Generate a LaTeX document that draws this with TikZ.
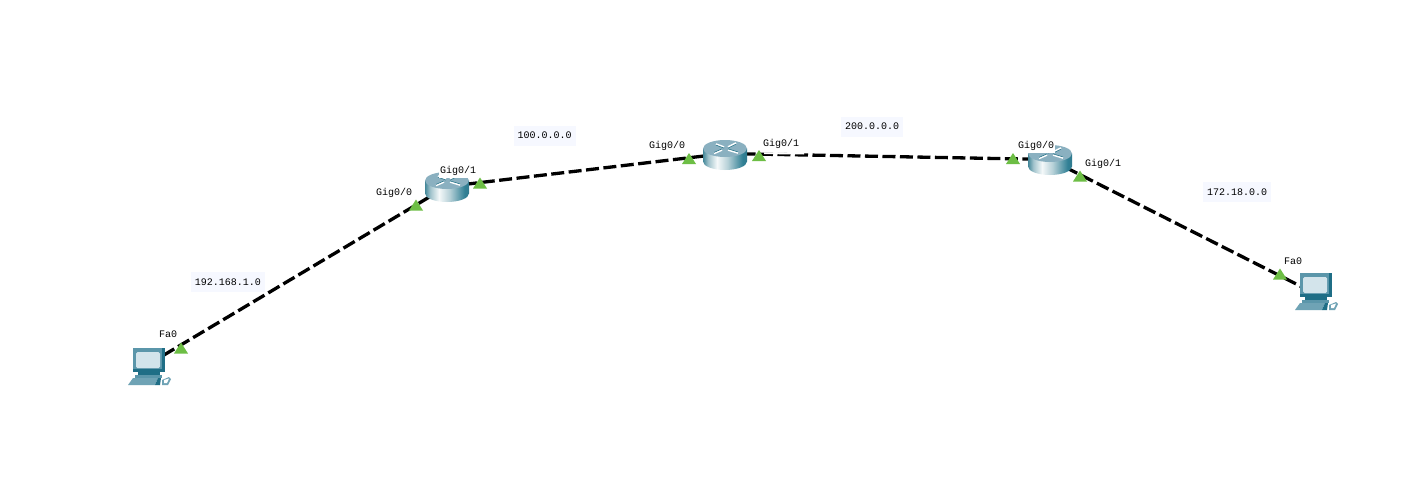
\documentclass[tikz,border=0pt]{standalone}
\usepackage{fontspec}
\setmonofont{Liberation Mono}
\definecolor{linkblack}{HTML}{000000}
\definecolor{portgreen}{HTML}{6DBE45}
\definecolor{ipbg}{HTML}{F6F8FF}
\definecolor{routertop}{HTML}{8AB0C0}
\definecolor{routeredge}{HTML}{2F7A8E}
\definecolor{pcmid}{HTML}{5B96AA}
\definecolor{pcdark}{HTML}{1F6E86}
\definecolor{pcscreen}{HTML}{D3E4EB}
\definecolor{pcbase}{HTML}{6FA3B5}
\pgfdeclarehorizontalshading{routerbody}{100bp}{
  color(0bp)=(routeredge!90!white);
  color(25bp)=(routeredge!90!white);
  color(31bp)=(routeredge!45!white);
  color(41bp)=(routeredge!5!white);
  color(53bp)=(routeredge!35!white);
  color(70bp)=(routeredge!105!black);
  color(75bp)=(routeredge!100!black);
  color(100bp)=(routeredge!100!black)}
\tikzset{
  x=1pt,y=-1pt,
  device/.style={inner sep=0pt,minimum width=1pt,minimum height=1pt},
  link/.style={draw=linkblack,line width=3.3pt,dash pattern=on 13pt off 4.5pt},
  portlabel/.style={font=\ttfamily\fontsize{10}{10}\selectfont,text=black,inner xsep=1pt,inner ysep=2.5pt,fill=white},
  iplabel/.style={font=\ttfamily\fontsize{10}{10}\selectfont,text=black,fill=ipbg,inner xsep=4pt,text height=9pt,text depth=3pt,inner ysep=4pt},
  pics/router/.style={code={
    \shade[shading=routerbody] (-22,-6.5) -- (-22,6.5) arc[start angle=180,end angle=360,x radius=22pt,y radius=8.5pt] -- (22,-6.5) -- cycle;
    \fill[routertop] (0,-6.5) ellipse[x radius=22pt,y radius=8.5pt];
    \draw[white,line width=1.6pt] (-11,-1.5) -- (-3,-5);
    \draw[white,line width=1.6pt] (3,-5) -- (13,-2);
    \draw[white,line width=1.6pt] (-9,-11) -- (-1,-8);
    \draw[white,line width=1.6pt] (3,-8) -- (11,-12);
    \draw[routeredge,line width=.6pt] (-11,-2.6) -- (-3,-6.1);
    \draw[routeredge,line width=.6pt] (3,-6.1) -- (13,-3.1);
    \draw[routeredge,line width=.6pt] (-9,-9.9) -- (-1,-6.9);
    \draw[routeredge,line width=.6pt] (3,-6.9) -- (11,-10.9);
  }},
  pics/pcicon/.style={code={
    \fill[pcdark] (-15,-18) -- (17,-18) -- (17,6) -- (-15,6) -- cycle;
    \fill[pcmid] (-15,-18) -- (14,-18) -- (14,3) -- (-15,3) -- cycle;
    \fill[pcscreen,rounded corners=1.5pt] (-12,-14) rectangle (12,2);
    \fill[pcdark] (-10,6) -- (12,6) -- (12,9) -- (-10,9) -- cycle;
    \fill[pcmid] (-13,9) -- (14,9) -- (14,12) -- (-13,12) -- cycle;
    \fill[pcbase] (-15,12) -- (10,12) -- (7,19) -- (-20,19) -- cycle;
    \fill[pcdark] (7,19) -- (10,12) -- (13,12) -- (12,19) -- cycle;
    \fill[pcbase] (14,14) -- (21,11) -- (23,13) -- (20,19) -- (14,19) -- cycle;
    \fill[white] (16,14) -- (21,12.5) -- (19,17) -- (16,17) -- cycle;
  }},
  pics/porttri/.style={code={
    \fill[portgreen] (-7,5.5) -- (0,-5.5) -- (7,5.5) -- cycle;
  }},
}
\begin{document}
\begin{tikzpicture}
\fill[white] (0,0) rectangle (1415,479);
\useasboundingbox (0,0) rectangle (1415,479);

% device anchors
\node[device] (pcA) at (148,364.5) {};
\node[device] (rA) at (447,186.5) {};
\node[device] (rB) at (725,153.5) {};
\node[device] (rC) at (1050,159.5) {};
\node[device] (pcB) at (1315,293.5) {};

% links
\draw[link] (pcA.center) -- (rA.center);
\draw[link] (rA.center) -- (rB.center);
\draw[link] (rB.center) -- (rC.center);
\draw[link] (rC.center) -- (pcB.center);
\coordinate (thinA) at (764,153.2);
\coordinate (thinB) at (804,153.6);
\draw[white,line width=1.8pt] (thinA) -- (thinB);

% icons
\pic at (148,366) {pcicon};
\pic at (1315,291) {pcicon};
\pic at (447,187) {router};
\pic at (725,155) {router};
\pic at (1050,160) {router};

% port markers
\pic at (181,348) {porttri};
\pic at (416,205) {porttri};
\pic at (480,183) {porttri};
\pic at (689,158.5) {porttri};
\pic at (759,155.5) {porttri};
\pic at (1013,158.5) {porttri};
\pic at (1080,176) {porttri};
\pic at (1280,274) {porttri};

% port labels
\node[portlabel] (l1) at (168,334) {Fa0};
\node[portlabel] (l2) at (394,193) {Gig0/0};
\node[portlabel] (l3) at (458,171) {Gig0/1};
\node[portlabel] (l4) at (667,146) {Gig0/0};
\node[portlabel] (l5) at (781,143.5) {Gig0/1};
\node[portlabel] (l6) at (1036,146) {Gig0/0};
\node[portlabel] (l7) at (1103,163.5) {Gig0/1};
\node[portlabel] (l8) at (1293,261) {Fa0};

% network labels
\node[iplabel] (n1) at (228,282) {192.168.1.0};
\node[iplabel] (n2) at (544.5,135.5) {100.0.0.0};
\node[iplabel] (n3) at (872,126.5) {200.0.0.0};
\node[iplabel] (n4) at (1237,192) {172.18.0.0};
\end{tikzpicture}
\end{document}
